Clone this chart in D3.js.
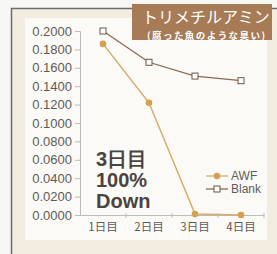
<!DOCTYPE html>
<html>
<head>
<meta charset="utf-8">
<script src="https://cdn.jsdelivr.net/npm/d3@7"></script>
<style>
  html, body { margin: 0; padding: 0; background: #f7f7f5; }
  svg { display: block; }
</style>
</head>
<body>
<div id="chart"></div>
<script>
'use strict';

var days = ['1日目', '2日目', '3日目', '4日目'];
var awf = [0.186, 0.122, 0.001, 0.000];
var blank = [0.200, 0.166, 0.151, 0.146];
var yTicks = [0, 0.02, 0.04, 0.06, 0.08, 0.10, 0.12, 0.14, 0.16, 0.18, 0.20];
var title = 'トリメチルアミン';
var subtitle = '(腐った魚のような臭い)';
var note = ['3日目', '100%', 'Down'];
var seriesNames = ['AWF', 'Blank'];

var width = 277;
var height = 254;

var svg = d3.select('#chart').append('svg')
  .attr('width', width)
  .attr('height', height);

// beige frame + border
svg.append('rect')
  .attr('x', 11).attr('y', 8)
  .attr('width', width - 11).attr('height', height - 8)
  .style('fill', '#f3ece1');
svg.append('path')
  .attr('d', 'M11.5,' + height + 'V8.5H' + width)
  .style('fill', 'none')
  .style('stroke', '#6e6a66')
  .style('stroke-width', 1.5);

// light plot panel
svg.append('rect')
  .attr('x', 25).attr('y', 18)
  .attr('width', 242).attr('height', 222)
  .style('fill', '#fcfaf6');

var x = d3.scaleBand().domain(days).range([80, 264]);
var y = d3.scaleLinear().domain([0, 0.2]).range([215, 31]);
var cx = function(d, i){ return x(days[i]) + x.bandwidth() / 2; };

// y axis
var yAxis = svg.append('g')
  .attr('transform', 'translate(80,0)')
  .call(d3.axisLeft(y).tickValues(yTicks).tickFormat(d3.format('.4f')).tickSize(5).tickPadding(3));
yAxis.select('.domain').style('stroke', '#bbb');
yAxis.selectAll('.tick line').style('stroke', '#bbb');
yAxis.selectAll('text')
  .style('font-family', 'Liberation Sans, Arial, sans-serif')
  .style('font-size', '13px')
  .style('fill', '#5e5a58');

// x axis
var xAxis = svg.append('g')
  .attr('transform', 'translate(0,215)')
  .call(d3.axisBottom(x).tickSize(0).tickSizeOuter(0).tickPadding(8));
xAxis.select('.domain').style('stroke', '#bbb');
xAxis.selectAll('text')
  .style('font-family', 'Noto Sans CJK JP, sans-serif')
  .style('font-size', '11.5px')
  .style('fill', '#5e5a58');
xAxis.selectAll('.sep')
  .data(days.slice(1).concat(['end']))
  .enter().append('line')
  .attr('class', 'sep')
  .attr('x1', function(d, i){ return x.range()[0] + x.bandwidth() * (i + 1); })
  .attr('x2', function(d, i){ return x.range()[0] + x.bandwidth() * (i + 1); })
  .attr('y1', -2).attr('y2', 3)
  .style('stroke', '#bbb');

// big note
svg.append('text')
  .attr('x', 96).attr('y', 166)
  .style('font-family', 'Liberation Sans, Arial, sans-serif')
  .style('font-weight', 'bold')
  .style('font-size', '20px')
  .style('fill', '#4a4341')
  .selectAll('tspan')
  .data(note)
  .enter().append('tspan')
  .attr('x', 96)
  .attr('dy', function(d, i){ return i === 0 ? 0 : 21; })
  .text(function(d){ return d; });

var line = d3.line().x(cx).y(function(d){ return y(d); });

// Blank
svg.append('path')
  .attr('d', line(blank))
  .style('fill', 'none')
  .style('stroke', '#8a6a4f')
  .style('stroke-width', 1.3);
svg.selectAll('.blank')
  .data(blank)
  .enter().append('rect')
  .attr('class', 'blank')
  .attr('x', function(d, i){ return cx(d, i) - 3; })
  .attr('y', function(d){ return y(d) - 3; })
  .attr('width', 6).attr('height', 6)
  .style('fill', '#fff')
  .style('stroke', '#6b5646')
  .style('stroke-width', 1);

// AWF
svg.append('path')
  .attr('d', line(awf))
  .style('fill', 'none')
  .style('stroke', '#d8ab6a')
  .style('stroke-width', 1.5);
svg.selectAll('.awf')
  .data(awf)
  .enter().append('circle')
  .attr('class', 'awf')
  .attr('cx', cx)
  .attr('cy', function(d){ return y(d); })
  .attr('r', 3.3)
  .style('fill', '#d5a04f');

// legend
var legend = svg.append('g');
var ly = [176, 189];
legend.selectAll('.lline')
  .data(seriesNames)
  .enter().append('line')
  .attr('x1', 206).attr('x2', 228)
  .attr('y1', function(d, i){ return ly[i]; })
  .attr('y2', function(d, i){ return ly[i]; })
  .style('stroke', function(d, i){ return i === 0 ? '#d8ab6a' : '#8a6a4f'; })
  .style('stroke-width', 1.3);
legend.append('circle')
  .attr('cx', 217).attr('cy', ly[0]).attr('r', 3.3)
  .style('fill', '#d5a04f');
legend.append('rect')
  .attr('x', 214).attr('y', ly[1] - 3).attr('width', 6).attr('height', 6)
  .style('fill', '#fff').style('stroke', '#6b5646');
legend.selectAll('text')
  .data(seriesNames)
  .enter().append('text')
  .attr('x', 231)
  .attr('y', function(d, i){ return ly[i] + 4; })
  .style('font-family', 'Liberation Sans, Arial, sans-serif')
  .style('font-size', '12px')
  .style('fill', '#5e5a58')
  .text(function(d){ return d; });

// title box
svg.append('rect')
  .attr('x', 132).attr('y', 4)
  .attr('width', 140).attr('height', 36)
  .style('fill', '#a87b57');
svg.append('text')
  .attr('x', 142).attr('y', 22.5)
  .style('font-family', 'Noto Sans CJK JP, sans-serif')
  .style('font-size', '16px')
  .style('fill', '#fff')
  .text(title);
svg.append('text')
  .attr('x', 147).attr('y', 38.5)
  .attr('textLength', 118)
  .style('font-family', 'Noto Sans CJK JP, sans-serif')
  .style('font-weight', 'bold')
  .style('font-size', '9.5px')
  .style('fill', '#fff')
  .text(subtitle);
</script>
</body>
</html>
